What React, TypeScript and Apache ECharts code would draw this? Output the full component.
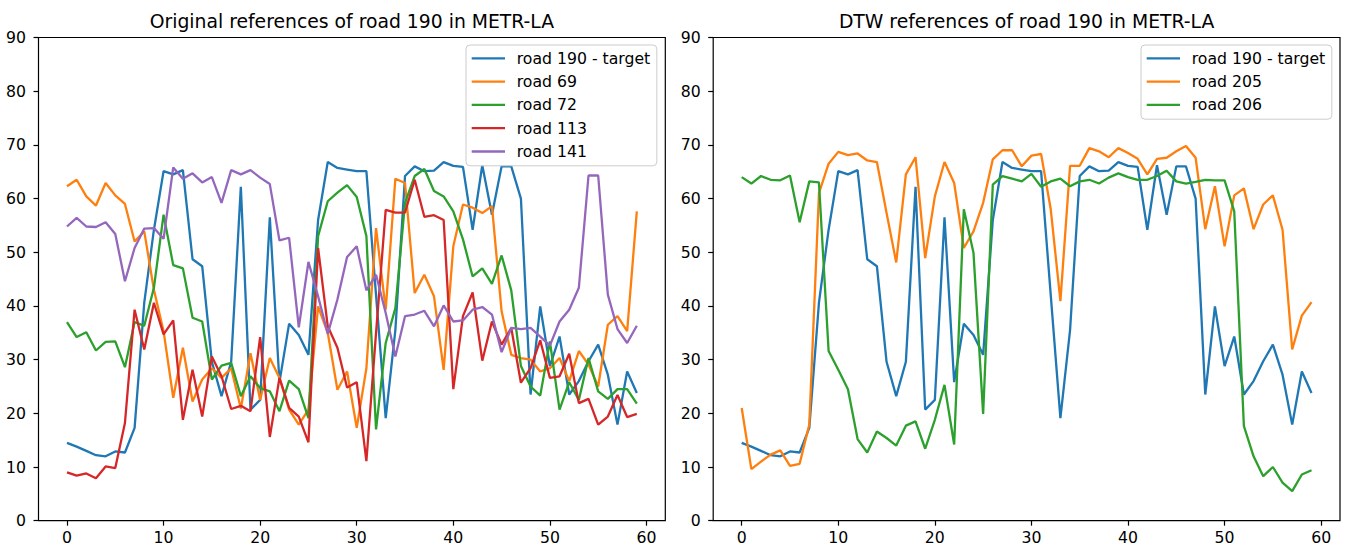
import React, { useEffect, useRef } from "react";
import * as echarts from "echarts";

const steps: number[] = Array.from({ length: 60 }, (_, i) => i);
const xTicks = [0, 10, 20, 30, 40, 50, 60];

const target = [14.5, 13.8, 13.0, 12.2, 12.0, 12.9, 12.7, 17.3, 40.6, 54.2, 65.1, 64.5, 65.3, 48.7, 47.4, 29.6, 23.2, 29.6, 62.2, 20.7, 22.5, 56.5, 25.8, 36.7, 34.6, 30.9, 56.0, 66.8, 65.7, 65.4, 65.1, 65.1, 42.0, 19.1, 35.5, 64.2, 66.0, 65.1, 65.2, 66.8, 66.1, 65.9, 54.2, 66.2, 57.0, 66.0, 66.0, 60.0, 23.5, 39.9, 28.8, 34.3, 23.5, 26.0, 29.7, 32.8, 27.2, 17.9, 27.8, 23.8];
const road69 = [62.3, 63.5, 60.4, 58.7, 62.9, 60.6, 59.0, 52.0, 53.9, 43.0, 35.3, 22.9, 32.2, 22.2, 26.3, 28.4, 26.6, 28.4, 20.9, 31.2, 22.5, 30.3, 26.6, 20.7, 17.9, 20.7, 39.9, 35.0, 24.4, 27.8, 17.3, 28.4, 54.5, 39.3, 63.7, 62.9, 42.4, 45.8, 41.8, 28.1, 51.1, 58.9, 58.3, 57.3, 58.6, 39.0, 30.9, 30.3, 30.0, 27.8, 28.4, 30.3, 26.0, 31.6, 29.1, 25.0, 36.5, 38.1, 35.3, 57.6];
const road72 = [37.0, 34.2, 35.1, 31.7, 33.3, 33.4, 28.6, 37.0, 36.3, 43.4, 57.0, 47.6, 47.0, 37.8, 37.1, 26.3, 28.9, 29.4, 23.2, 26.9, 24.7, 24.1, 20.4, 26.1, 24.5, 19.1, 53.0, 59.5, 61.1, 62.5, 60.3, 53.0, 17.0, 33.1, 39.6, 59.2, 64.2, 65.5, 61.4, 60.4, 57.6, 52.4, 45.5, 47.0, 44.1, 49.4, 42.9, 28.8, 25.0, 23.3, 33.4, 20.7, 25.8, 22.5, 30.3, 24.1, 22.7, 24.5, 24.5, 21.8];
const road113 = [9.0, 8.4, 8.8, 7.9, 10.1, 9.8, 18.2, 39.3, 31.9, 40.6, 34.7, 37.3, 18.8, 28.1, 19.4, 30.6, 26.9, 20.8, 21.4, 20.4, 34.2, 15.6, 26.6, 21.0, 19.4, 14.6, 50.8, 36.2, 32.2, 24.8, 25.8, 11.1, 35.0, 57.9, 57.4, 57.4, 63.5, 56.6, 56.9, 56.0, 24.5, 38.1, 42.5, 29.8, 37.1, 32.8, 35.9, 25.7, 28.4, 33.6, 26.6, 26.9, 31.1, 21.9, 22.7, 17.9, 19.4, 23.4, 19.3, 19.9];
const road141 = [54.8, 56.4, 54.8, 54.7, 55.6, 53.4, 44.6, 50.8, 54.4, 54.5, 52.5, 65.8, 63.7, 64.7, 63.0, 64.0, 59.2, 65.3, 64.5, 65.3, 63.9, 62.7, 52.2, 52.7, 36.0, 48.2, 41.8, 34.8, 41.2, 49.1, 51.1, 42.9, 45.8, 38.7, 30.6, 38.1, 38.4, 39.1, 36.2, 40.1, 37.1, 37.3, 39.3, 39.8, 38.4, 31.4, 35.9, 35.7, 35.9, 34.3, 32.6, 37.1, 39.3, 43.4, 64.3, 64.3, 42.1, 35.7, 33.1, 36.3];
const road205 = [21.0, 9.6, 11.0, 12.3, 13.1, 10.2, 10.6, 17.9, 61.0, 66.5, 68.7, 68.1, 68.4, 67.1, 66.8, 57.3, 48.1, 64.5, 67.7, 48.9, 60.4, 66.8, 62.9, 50.8, 53.9, 59.2, 67.3, 69.0, 69.0, 66.0, 68.0, 68.3, 58.0, 40.9, 66.1, 66.1, 69.4, 68.8, 67.7, 69.4, 68.5, 67.4, 64.5, 67.4, 67.6, 68.8, 69.8, 67.6, 54.3, 62.3, 51.1, 60.6, 61.9, 54.3, 58.9, 60.6, 54.2, 31.9, 38.2, 40.7];
const road206 = [64.0, 62.8, 64.2, 63.5, 63.4, 64.3, 55.6, 63.2, 63.0, 31.6, 28.1, 24.5, 15.2, 12.7, 16.6, 15.4, 14.0, 17.7, 18.5, 13.4, 18.8, 25.3, 14.2, 58.0, 49.9, 19.9, 62.6, 64.2, 63.7, 63.2, 64.6, 62.2, 63.2, 63.7, 62.3, 63.2, 63.5, 62.8, 63.9, 64.7, 64.0, 63.5, 63.5, 64.2, 65.2, 63.2, 62.8, 63.1, 63.5, 63.4, 63.4, 57.6, 17.6, 12.0, 8.3, 10.0, 7.1, 5.5, 8.6, 9.4];

const leftTitle = "Original references of road 190 in METR-LA";
const rightTitle = "DTW references of road 190 in METR-LA";
const leftNames = ["road 190 - target", "road 69", "road 72", "road 113", "road 141"];
const rightNames = ["road 190 - target", "road 205", "road 206"];
const leftSeries = [target, road69, road72, road113, road141];
const rightSeries = [target, road205, road206];
const colors = ["#1f77b4", "#ff7f0e", "#2ca02c", "#d62728", "#9467bd"];

const FONT = "DejaVu Sans";
const TICK_FS = 15.7;

function makeX(gridIndex: number) {
  return {
    type: "value",
    gridIndex,
    min: -2.95,
    max: 61.95,
    splitLine: { show: false },
    axisLine: { show: false, onZero: false },
    axisTick: {
      show: true,
      inside: false,
      length: 5,
      lineStyle: { color: "#000", width: 1.2 },
      customValues: xTicks,
    },
    axisLabel: {
      customValues: xTicks,
      margin: 9,
      fontSize: TICK_FS,
      fontFamily: FONT,
      color: "#000",
    },
  };
}

function makeY(gridIndex: number) {
  return {
    type: "value",
    gridIndex,
    min: 0,
    max: 90,
    interval: 10,
    splitLine: { show: false },
    axisLine: { show: false, onZero: false },
    axisTick: { show: true, inside: false, length: 5, lineStyle: { color: "#000", width: 1.2 } },
    axisLabel: { margin: 12.5, fontSize: TICK_FS, fontFamily: FONT, color: "#000" },
  };
}

function makeLegend(names: string[], left: number) {
  return {
    orient: "vertical",
    left,
    top: 45,
    data: names,
    selectedMode: false,
    icon: "path://M0,0H33.3V2.3H0Z",
    itemWidth: 33.3,
    itemHeight: 16,
    itemGap: 7.3,
    padding: [5.3, 6.6, 6.3, 5.7],
    backgroundColor: "rgba(255,255,255,0.8)",
    borderColor: "#cccccc",
    borderWidth: 1,
    borderRadius: 4,
    textStyle: { fontSize: TICK_FS, fontFamily: FONT, color: "#000", padding: [0, 0, 0, 6.7] },
  };
}

export default function App() {
  const ref = useRef<HTMLDivElement>(null);
  useEffect(() => {
    document.body.style.margin = "0";
    if (!ref.current) return;
    const chart = echarts.init(ref.current, null, { renderer: "svg" });
    const series: any[] = [];
    leftSeries.forEach((arr, k) => {
      series.push({
        type: "line",
        name: leftNames[k],
        xAxisIndex: 0,
        yAxisIndex: 0,
        symbol: "none",
        color: colors[k],
        itemStyle: { color: colors[k] },
        lineStyle: { width: 2.3, color: colors[k] },
        data: arr.map((v, i) => [steps[i], v]),
      });
    });
    rightSeries.forEach((arr, k) => {
      series.push({
        type: "line",
        name: rightNames[k],
        xAxisIndex: 1,
        yAxisIndex: 1,
        symbol: "none",
        color: colors[k],
        itemStyle: { color: colors[k] },
        lineStyle: { width: 2.3, color: colors[k] },
        data: arr.map((v, i) => [steps[i], v]),
      });
    });
    chart.setOption({
      animation: false,
      backgroundColor: "#ffffff",
      grid: [
        { left: 38.5, top: 37.5, width: 626.8, height: 483.2, show: true, borderColor: "#000", borderWidth: 1.2, backgroundColor: "transparent" },
        { left: 713.2, top: 37.5, width: 626.8, height: 483.2, show: true, borderColor: "#000", borderWidth: 1.2, backgroundColor: "transparent" },
      ],
      xAxis: [makeX(0), makeX(1)],
      yAxis: [makeY(0), makeY(1)],
      legend: [makeLegend(leftNames, 466), makeLegend(rightNames, 1141)],
      graphic: [
        {
          type: "text",
          x: 351.9,
          y: 21,
          style: { text: leftTitle, fontSize: 18.8, fontFamily: FONT, fill: "#000", align: "center", verticalAlign: "middle" },
        },
        {
          type: "text",
          x: 1026.6,
          y: 21,
          style: { text: rightTitle, fontSize: 18.8, fontFamily: FONT, fill: "#000", align: "center", verticalAlign: "middle" },
        },
      ],
      series,
    });
    return () => chart.dispose();
  }, []);
  return <div ref={ref} style={{ width: 1348, height: 550 }} />;
}
